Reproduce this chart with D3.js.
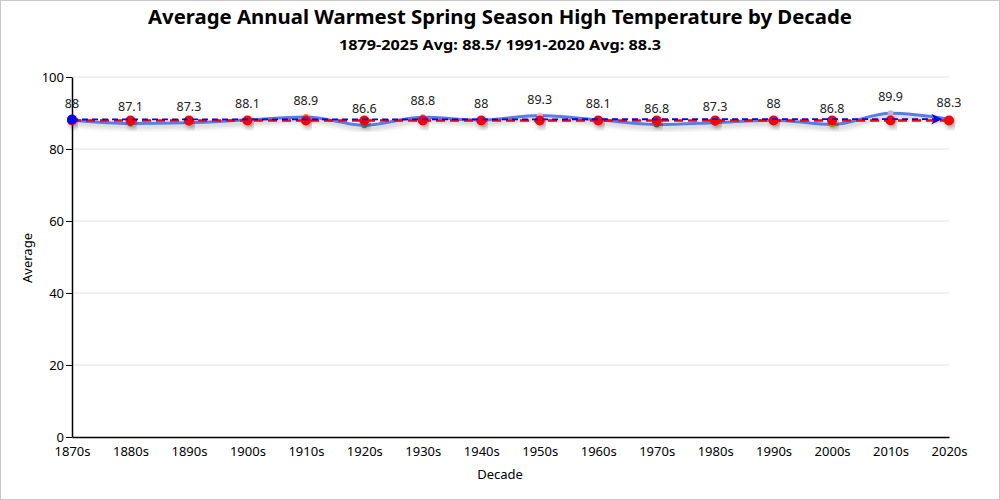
<!DOCTYPE html>
<html><head><meta charset="utf-8">
<script src="https://cdn.jsdelivr.net/npm/d3@7"></script>
<style>
html,body{margin:0;padding:0;background:#fff;}
svg{display:block;font-family:"Noto Sans","Open Sans",sans-serif;}
</style></head>
<body>
<svg id="chart" width="1000" height="500"></svg>
<script>
const decades = ["1870s","1880s","1890s","1900s","1910s","1920s","1930s","1940s","1950s","1960s","1970s","1980s","1990s","2000s","2010s","2020s"];
const averages = [88, 87.1, 87.3, 88.1, 88.9, 86.6, 88.8, 88, 89.3, 88.1, 86.8, 87.3, 88, 86.8, 89.9, 88.3];
const pointColors = ["#1f77b4","#2ca02c","#9467bd","#d62728","#ff7f0e","#17a0a0","#999999","#8c564b","#f7b6d2","#2ca02c","#8c564b","#1f77b4","#9467bd","#bcbd22","#c5b0d5","#e377c2"];
const meanLine = 87.9;            // red dashed reference line
const trendEnds = [88.2, 88.3];   // blue dashed trend arrow (start, end)
const yTicks = [0, 20, 40, 60, 80, 100];
const titleText = "Average Annual Warmest Spring Season High Temperature by Decade";
const subtitleText = "1879-2025 Avg: 88.5/ 1991-2020 Avg: 88.3";

const svg = d3.select("#chart");
const W = 1000, H = 500;
const m = {left: 72, right: 51, top: 77, bottom: 63};

svg.append("rect").attr("x",0.5).attr("y",0.5).attr("width",W-1).attr("height",H-1)
  .attr("fill","#fff").attr("stroke","#c8c8c8");

const defs = svg.append("defs");
const f = defs.append("filter").attr("id","shadow").attr("x","-10%").attr("y","-50%").attr("width","120%").attr("height","200%");
f.append("feDropShadow").attr("dx",2).attr("dy",3).attr("stdDeviation",2.5).attr("flood-color","#000").attr("flood-opacity",0.35);
defs.append("marker").attr("id","arrow").attr("viewBox","0 0 10 10").attr("refX",9).attr("refY",5)
  .attr("markerWidth",6).attr("markerHeight",6).attr("orient","auto")
  .append("path").attr("d","M0,0 L10,5 L0,10 L3,5 Z").attr("fill","#0000ff");

const x = d3.scalePoint().domain(decades).range([m.left, W - m.right]);
const y = d3.scaleLinear().domain([0, 100]).range([H - m.bottom, m.top]);

// grid
svg.append("g").selectAll("line").data(yTicks.filter(d => d > 0)).join("line")
  .attr("x1", m.left).attr("x2", W - m.right)
  .attr("y1", d => y(d)).attr("y2", d => y(d))
  .attr("stroke", "#e6e6e6").attr("stroke-width", 1);

// axes
const yAxis = svg.append("g").attr("transform", `translate(${m.left},0)`)
  .call(d3.axisLeft(y).tickValues(yTicks).tickSize(6).tickPadding(2).tickSizeOuter(0));
const xAxis = svg.append("g").attr("transform", `translate(0,${H - m.bottom})`)
  .call(d3.axisBottom(x).tickSize(0).tickPadding(10));
[yAxis, xAxis].forEach(g => {
  g.selectAll("text").attr("font-size", 13).attr("fill", "#000").attr("font-family", '"Noto Sans",sans-serif');
  g.select(".domain").attr("stroke", "#000").attr("stroke-width", 1.5);
  g.selectAll(".tick line").attr("stroke", "#000");
});

// main line
const line = d3.line().x((d, i) => x(decades[i])).y(d => y(d)).curve(d3.curveMonotoneX);
svg.append("path").datum(averages).attr("d", line)
  .attr("fill", "none").attr("stroke", "#4169e1").attr("stroke-opacity", 0.85)
  .attr("stroke-width", 3).attr("filter", "url(#shadow)");

// colored small points
svg.append("g").selectAll("circle").data(averages).join("circle")
  .attr("cx", (d, i) => x(decades[i])).attr("cy", d => y(d)).attr("r", 3)
  .attr("fill", (d, i) => pointColors[i]);

// red mean line
svg.append("line")
  .attr("x1", x(decades[0])).attr("x2", x(decades[decades.length - 1]))
  .attr("y1", y(meanLine)).attr("y2", y(meanLine))
  .attr("stroke", "#ff0000").attr("stroke-width", 2.5).attr("stroke-dasharray", "9,5");

// red dots
svg.append("g").selectAll("circle").data(decades).join("circle")
  .attr("cx", d => x(d)).attr("cy", y(meanLine)).attr("r", 5)
  .attr("fill", "#ff0000").attr("filter", "url(#shadow)");

// blue trend arrow
svg.append("line")
  .attr("x1", x(decades[0])).attr("x2", x(decades[decades.length - 1]) - 8)
  .attr("y1", y(trendEnds[0])).attr("y2", y(trendEnds[1]))
  .attr("stroke", "#0000ff").attr("stroke-width", 1.8).attr("stroke-dasharray", "6,4")
  .attr("marker-end", "url(#arrow)");
svg.append("circle").attr("cx", x(decades[0])).attr("cy", y(trendEnds[0])).attr("r", 5).attr("fill", "#0000ff");

// value labels
svg.append("g").selectAll("text").data(averages).join("text")
  .attr("x", (d, i) => x(decades[i])).attr("y", d => y(d) - 12)
  .attr("text-anchor", "middle").attr("font-size", 12.5).attr("fill", "#222")
  .text(d => d);

// titles
svg.append("text").attr("x", 500).attr("y", 24).attr("text-anchor", "middle")
  .attr("font-size", 20).attr("font-weight", "bold").attr("fill", "#000")
  .attr("textLength", 704).attr("lengthAdjust", "spacingAndGlyphs").text(titleText);
svg.append("text").attr("x", 500).attr("y", 50).attr("text-anchor", "middle")
  .attr("font-size", 14).attr("font-weight", "bold").attr("fill", "#000")
  .attr("textLength", 322).attr("lengthAdjust", "spacingAndGlyphs").text(subtitleText);

// axis titles
svg.append("text").attr("x", 500).attr("y", 479).attr("text-anchor", "middle")
  .attr("font-size", 13).attr("fill", "#000").text("Decade");
svg.append("text").attr("transform", "translate(32,258) rotate(-90)").attr("text-anchor", "middle")
  .attr("font-size", 13).attr("fill", "#000").text("Average");
</script>
</body></html>
